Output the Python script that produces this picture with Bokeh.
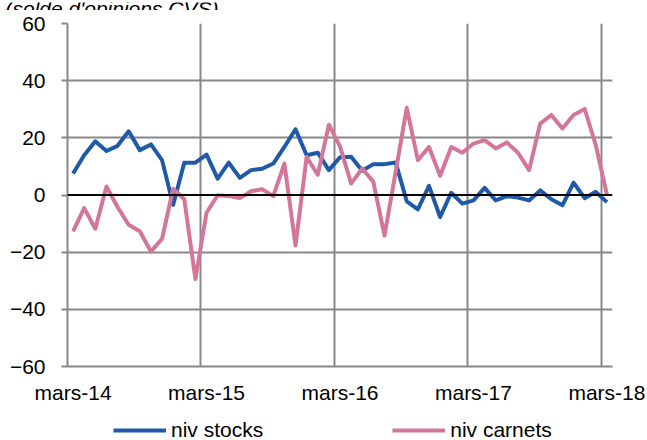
from bokeh.plotting import figure
from bokeh.models import (FixedTicker, Range1d, Span, Legend, LegendItem, Label,
                          ColumnDataSource)
from bokeh.layouts import column
from bokeh.embed import file_html
from bokeh.resources import INLINE

# ---- data -------------------------------------------------------------
months = list(range(49))  # mars-14 .. mars-18, monthly
tick_positions = [0, 12, 24, 36, 48]
tick_labels = ["mars-14", "mars-15", "mars-16", "mars-17", "mars-18"]
y_ticks = [-60, -40, -20, 0, 20, 40, 60]

niv_stocks = [7.5, 13.9, 18.8, 15.4, 17.2, 22.3, 15.7, 17.7, 12.2, -3.4,
              11.3, 11.3, 14.1, 5.7, 11.3, 6.0, 8.7, 9.2, 11.0, 16.8,
              23.0, 13.9, 14.8, 8.7, 13.2, 13.4, 8.5, 10.8, 10.8, 11.4,
              -2.2, -5.0, 3.2, -7.7, 0.8, -3.0, -1.9, 2.5, -1.9, -0.4,
              -0.9, -1.9, 1.6, -1.5, -3.6, 4.3, -1.1, 1.1, -2.5]

niv_carnets = [-12.7, -4.6, -11.8, 3.0, -4.2, -10.4, -12.7, -19.8, -15.3, 2.2,
               -1.5, -29.4, -6.2, -0.1, -0.4, -1.1, 1.3, 2.0, -0.4, 11.0,
               -17.7, 13.3, 7.1, 24.6, 17.0, 4.0, 9.3, 4.6, -14.2, 8.0,
               30.5, 12.2, 16.8, 6.7, 16.8, 14.8, 18.0, 19.2, 16.3, 18.4,
               14.8, 8.7, 25.0, 28.0, 23.3, 28.0, 30.1, 17.4, 0.1]

series_names = ["niv stocks", "niv carnets"]
title_text = "(solde d'opinions CVS)"

BLUE = "#1F5AA8"
PINK = "#D4769A"
GRID = "#888888"
FONT = "Liberation Sans"
FS = "21px"
W = 647

# ---- title strip (top, cropped like the original) ----------------------
t = figure(width=W, height=10, output_backend="svg", toolbar_location=None,
           x_range=Range1d(0, W), y_range=Range1d(0, 10),
           min_border=0, x_axis_type=None, y_axis_type=None)
t.frame_align = False
t.outline_line_color = None
t.grid.visible = False
t.add_layout(Label(x=5, y=4, text=title_text, text_font=FONT,
                   text_font_size=FS, text_font_style="italic",
                   text_baseline="alphabetic", text_align="left",
                   text_color="black"))

# ---- main chart --------------------------------------------------------
src = ColumnDataSource(dict(x=months, stocks=niv_stocks, carnets=niv_carnets))

p = figure(width=W, height=400, output_backend="svg", toolbar_location=None,
           x_range=Range1d(-0.5, 48.5), y_range=Range1d(-60, 60),
           min_border_left=67, min_border_right=35, min_border_top=13,
           min_border_bottom=44)
p.frame_align = False
p.outline_line_color = None

p.xgrid.ticker = FixedTicker(ticks=[11.5, 23.5, 35.5, 47.5])
p.ygrid.ticker = FixedTicker(ticks=[-40, -20, 20, 40, 60])
for g in (p.xgrid, p.ygrid):
    g.grid_line_color = GRID
    g.grid_line_width = 2

p.xaxis.ticker = FixedTicker(ticks=tick_positions)
p.xaxis.major_label_overrides = {tk: lb for tk, lb in zip(tick_positions, tick_labels)}
p.xaxis.major_tick_out = 0
p.xaxis.major_tick_in = 0
p.xaxis.major_label_standoff = 14

p.yaxis.ticker = FixedTicker(ticks=y_ticks)
p.yaxis.major_tick_out = 6
p.yaxis.major_tick_in = 0
p.yaxis.major_label_standoff = 16

for ax in (p.xaxis, p.yaxis):
    ax.minor_tick_line_color = None
    ax.axis_line_color = GRID
    ax.axis_line_width = 2
    ax.major_tick_line_color = GRID
    ax.major_tick_line_width = 2
    ax.major_label_text_font = FONT
    ax.major_label_text_font_size = FS
    ax.major_label_text_color = "black"

p.add_layout(Span(location=0, dimension="width", line_color="black", line_width=2))

p.line("x", "stocks", source=src, line_color=BLUE, line_width=4, line_join="round")
p.line("x", "carnets", source=src, line_color=PINK, line_width=4, line_join="round")

# ---- legend strip (bottom) --------------------------------------------
lg = figure(width=W, height=30, output_backend="svg", toolbar_location=None,
            x_range=Range1d(0, 1), y_range=Range1d(0, 1),
            min_border=0, x_axis_type=None, y_axis_type=None)
lg.frame_align = False
lg.outline_line_color = None
lg.grid.visible = False
# hidden proxies (outside the visible range) that only supply legend swatches
d1 = lg.line(x=[-5, -4], y=[-5, -5], line_color=BLUE, line_width=4)
d2 = lg.line(x=[-5, -4], y=[-5, -5], line_color=PINK, line_width=4)
legend = Legend(items=[LegendItem(label=series_names[0], renderers=[d1]),
                       LegendItem(label=series_names[1], renderers=[d2])],
                orientation="horizontal", location=(113, -2),
                glyph_width=53, glyph_height=20, label_height=20,
                label_standoff=5, spacing=129, padding=0, margin=0,
                border_line_color=None, background_fill_alpha=0,
                label_text_font=FONT, label_text_font_size=FS,
                label_text_color="black")
lg.add_layout(legend, "center")

layout = column(t, p, lg, spacing=0)
open("out.html", "w").write(file_html(layout, INLINE))
